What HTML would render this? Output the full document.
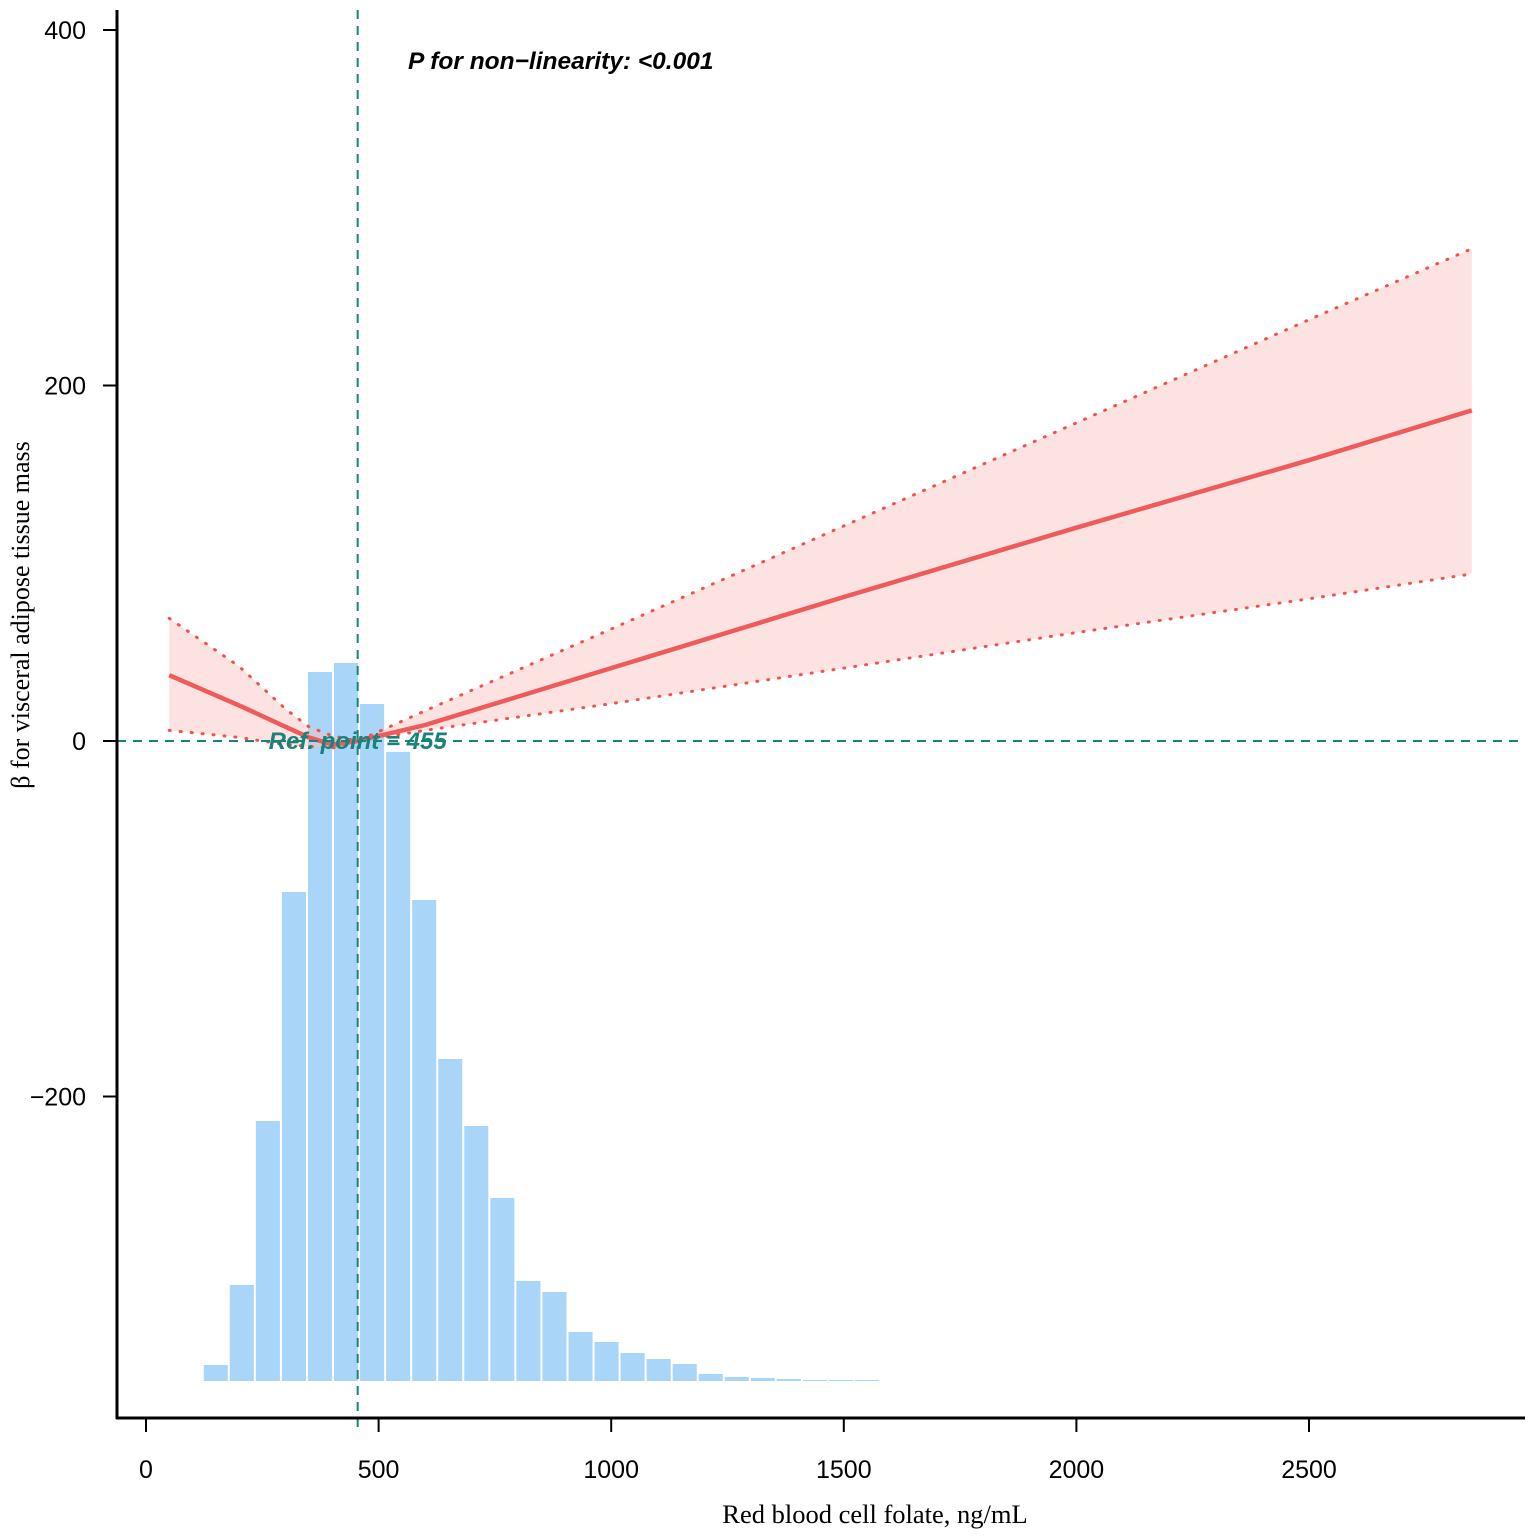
<!DOCTYPE html>
<html><head><meta charset="utf-8"><style>
body{margin:0;background:#fff}
svg{display:block}
</style></head><body>
<svg id="chart" width="1535" height="1537" xmlns="http://www.w3.org/2000/svg">
<g id="hist"></g>
<g id="band"></g>
<g id="axes"></g>
<text x="408" y="69" font-family="Liberation Sans, sans-serif" font-size="24.5" font-weight="bold" font-style="italic">P for non−linearity: &lt;0.001</text>
<text x="875" y="1523" text-anchor="middle" font-family="Liberation Serif, serif" font-size="26.5">Red blood cell folate, ng/mL</text>
<text transform="translate(29,615) rotate(-90)" text-anchor="middle" font-family="Liberation Serif, serif" font-size="26">β for visceral adipose tissue mass</text>
</svg>
<script>
const binStart = 122;
const binWidth = 56;
const binCounts = [16,96,260,489,709,718,677,629,481,322,255,183,100,89,49,39,28,22,17,7,4,3,2,1,1,1];
const curveX = [50,200,300,350,400,455,600,1000,1500,2000,2500,2850];
const curveY = [37,20,8,2,-2,0,9,41,81,120,158,186];
const upperY = [69,42,18,8,3,0,17,63,121,179,237,277];
const lowerY = [6,2,-2,-3,-4,0,6,21,41,61,80,94];
const xTicks = [0,500,1000,1500,2000,2500];
const yTicks = [-200,0,200,400];
const refPoint = 455;
const refLabel = "Ref. point = 455";

const NS="http://www.w3.org/2000/svg";
const sx=v=>146+v*0.4652;
const sy=v=>741-v*1.7775;
const hBase=1381;
const sh=c=>c*1.0;
function mk(tag,attrs,parent){const e=document.createElementNS(NS,tag);for(const k in attrs)e.setAttribute(k,attrs[k]);parent.appendChild(e);return e;}
const hist=document.getElementById('hist');
binCounts.forEach((c,i)=>{
  const x0=sx(binStart+i*binWidth), x1=sx(binStart+(i+1)*binWidth);
  const r=mk('rect',{x:x0+1,y:hBase-sh(c),width:x1-x0-2,height:sh(c),fill:'#a8d5f8'},hist);
  
  
});
const band=document.getElementById('band');
let d='M'+curveX.map((x,i)=>sx(x)+','+sy(upperY[i])).join('L');
for(let i=curveX.length-1;i>=0;i--)d+='L'+sx(curveX[i])+','+sy(lowerY[i]);
const poly=mk('path',{d:d+'Z',fill:'#f8c0bc','fill-opacity':0.45},band);


const line=pts=>curveX.map((x,i)=>sx(x)+','+sy(pts[i])).join(' ');
const up=mk('polyline',{points:line(upperY),fill:'none',stroke:'#ef5350','stroke-width':3,'stroke-dasharray':'1 10','stroke-linecap':'round'},band);


const lo=mk('polyline',{points:line(lowerY),fill:'none',stroke:'#ef5350','stroke-width':3,'stroke-dasharray':'1 10','stroke-linecap':'round'},band);


const est=mk('polyline',{points:line(curveY),fill:'none',stroke:'#ef5b5b','stroke-width':4.5},band);



const ax=document.getElementById('axes');
const h0=mk('line',{x1:117,x2:1525,y1:sy(0),y2:sy(0),stroke:'#17837a','stroke-width':2,'stroke-dasharray':'9 7'},ax);


const vr=mk('line',{x1:sx(refPoint),x2:sx(refPoint),y1:10,y2:1430,stroke:'#17837a','stroke-width':2,'stroke-dasharray':'9 7'},ax);


const rl=mk('text',{x:sx(refPoint),y:sy(0)+8,'text-anchor':'middle','font-family':'Liberation Sans, sans-serif','font-size':24,'font-weight':'bold','font-style':'italic',fill:'#17837a'},ax);
rl.textContent=refLabel;


const ya=mk('line',{x1:117,x2:117,y1:10,y2:1419,stroke:'#000','stroke-width':3},ax);


const xa=mk('line',{x1:116,x2:1525,y1:1418,y2:1418,stroke:'#000','stroke-width':3},ax);


xTicks.forEach(t=>{
  const tk=mk('line',{x1:sx(t),x2:sx(t),y1:1418,y2:1432,stroke:'#000','stroke-width':2},ax);
  
  
  const tl=mk('text',{x:sx(t),y:1478,'text-anchor':'middle','font-family':'Liberation Sans, sans-serif','font-size':25},ax);
  tl.textContent=t;
  
  
});
yTicks.forEach(t=>{
  const tk=mk('line',{x1:103,x2:117,y1:sy(t),y2:sy(t),stroke:'#000','stroke-width':2},ax);
  
  
  const tl=mk('text',{x:86,y:sy(t)+9,'text-anchor':'end','font-family':'Liberation Sans, sans-serif','font-size':25},ax);
  tl.textContent=t<0?'−'+(-t):t;
  
  
});
</script>
</body></html>
